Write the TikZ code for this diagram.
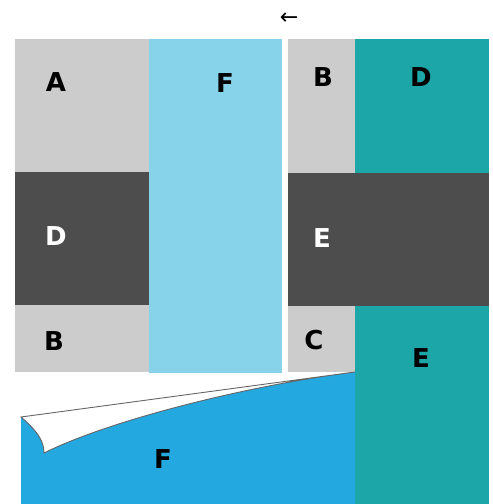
\documentclass[tikz,border=0pt]{standalone}
\usepackage{fontspec}
\setmainfont{DejaVu Sans}
\definecolor{lgray}{HTML}{CCCCCC}
\definecolor{dgray}{HTML}{4D4D4D}
\definecolor{lblue}{HTML}{87D3EA}
\definecolor{teal}{HTML}{1CA6A8}
\definecolor{sblue}{HTML}{24A8E0}
\definecolor{edge}{HTML}{666666}
\tikzset{
  lbl/.style={font=\fontsize{26}{26}\selectfont\bfseries, inner sep=0pt},
}
\begin{document}
\begin{tikzpicture}[x=1pt, y=-1pt]

            \useasboundingbox (0,0) rectangle (493,504);

            % left sheet
            \fill[lgray] (15,39) rectangle (149,172);
            \fill[dgray] (15,172) rectangle (149,305);
            \fill[lgray] (15,305) rectangle (149,372);
            \fill[lblue] (149,39) rectangle (282,373);

            % right sheet
            \fill[lgray] (288,39) rectangle (355,173);
            \fill[teal] (355,39) rectangle (489,173);
            \fill[dgray] (288,173) rectangle (489,306);
            \fill[lgray] (288,306) rectangle (355,372);
            \fill[teal] (355,306) rectangle (489,504);

            % peeled page
            \fill[sblue] (21,504) -- (21,417)
                .. controls (36,430) and (44,440) .. (44,453)
                .. controls (110,420) and (250,385) .. (355,372)
                -- (355,504) -- cycle;
            \draw[edge, line width=0.9pt] (355,372) -- (21,417)
                .. controls (36,430) and (44,440) .. (44,453)
                .. controls (110,420) and (250,385) .. (355,372);

            % labels
            \node[lbl] (la) at (56,82) {A};
            \node[lbl] (lf) at (225,83) {F};
            \node[lbl, white] (ld) at (56,236) {D};
            \node[lbl] (lb) at (54,341) {B};
            \node[lbl] (rb) at (323,77) {B};
            \node[lbl] (rd) at (421,77) {D};
            \node[lbl, white] (re) at (322,238) {E};
            \node[lbl] (rc) at (314,340) {C};
            \node[lbl] (te) at (421,358) {E};
            \node[lbl] (bf) at (163,459) {F};

            \node[font=\fontsize{22}{22}\selectfont, inner sep=0pt] (arr) at (289,19) {←};

\end{tikzpicture}
\end{document}
